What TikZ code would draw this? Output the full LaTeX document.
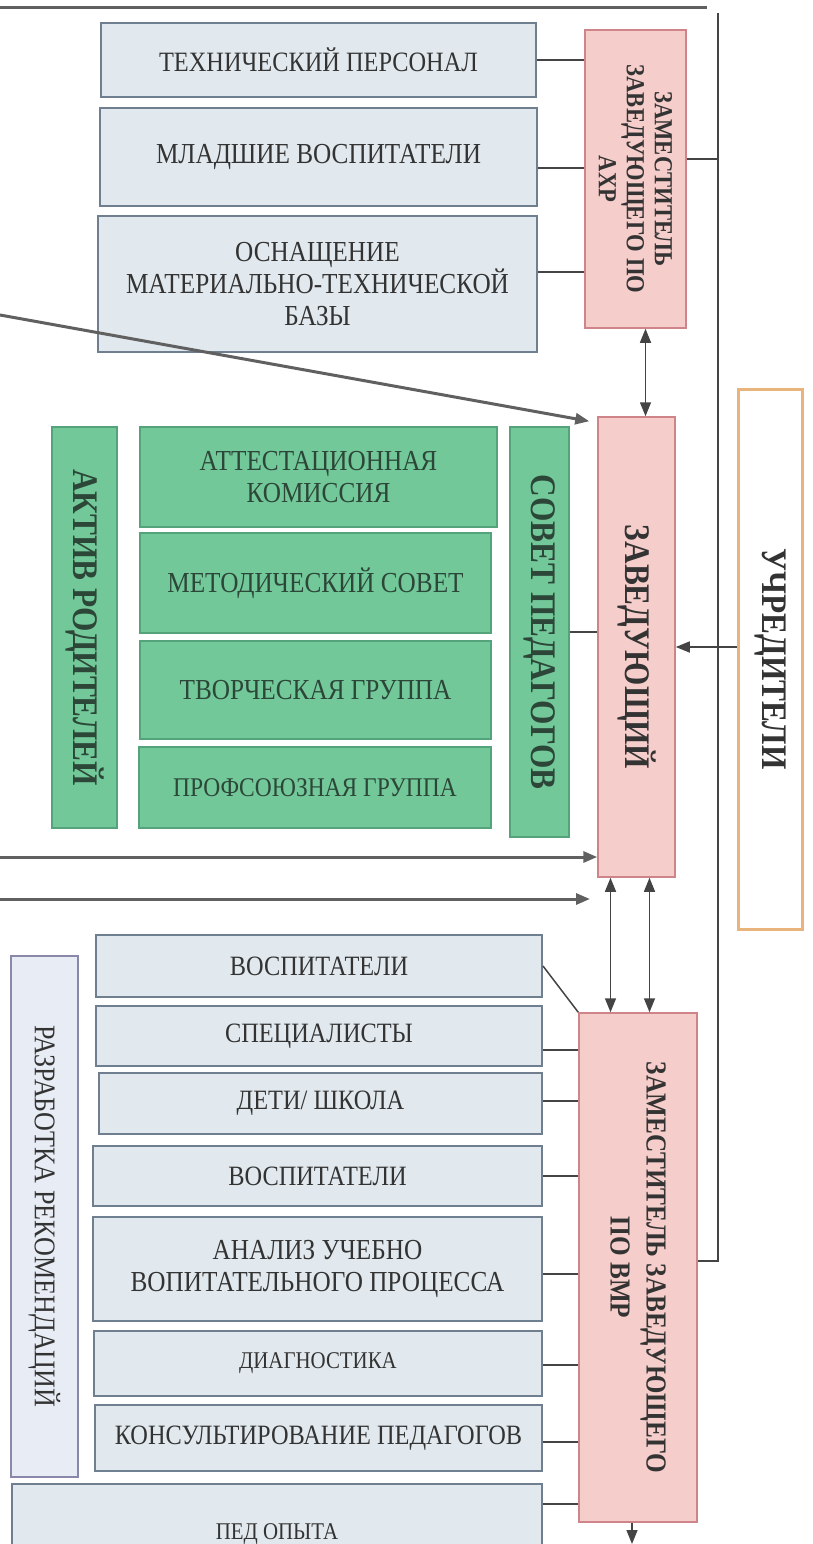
\documentclass[tikz,border=0pt]{standalone}
\usepackage{fontspec}
\setmainfont[FakeStretch=0.87]{Liberation Serif}
\usetikzlibrary{positioning, calc, arrows.meta}

\definecolor{bluefill}{HTML}{E1E9EE}
\definecolor{blueline}{HTML}{6F7F90}
\definecolor{greenfill}{HTML}{72C899}
\definecolor{greenline}{HTML}{55A37B}
\definecolor{greentxt}{HTML}{2C4638}
\definecolor{pinkfill}{HTML}{F5CDCA}
\definecolor{pinkline}{HTML}{CF8489}
\definecolor{lilacfill}{HTML}{E8ECF4}
\definecolor{lilacline}{HTML}{8A88AA}
\definecolor{orangeline}{HTML}{E8B47C}
\definecolor{txt}{HTML}{333333}
\definecolor{linec}{HTML}{444444}

\tikzset{
bluebox/.style={draw=blueline, fill=bluefill, line width=2pt, inner sep=0pt, text=txt, align=center, font=\fontsize{28}{32}\selectfont},
greenbox/.style={draw=greenline, fill=greenfill, line width=1.5pt, inner sep=0pt, text=greentxt, align=center, font=\fontsize{29}{32}\selectfont},
pinkbox/.style={draw=pinkline, fill=pinkfill, line width=1.5pt, inner sep=0pt},
vtext/.style={rotate=-90, text=txt, align=center, font=\bfseries\fontsize{36}{38}\selectfont},
link/.style={draw=linec, line width=1.5pt},
heavy/.style={draw=linec!85, line width=3pt},
tip/.style={-{Triangle[length=14pt,width=11pt]}},
tips/.style={{Triangle[length=14pt,width=11pt]}-{Triangle[length=14pt,width=11pt]}}
}

\begin{document}
\begin{tikzpicture}[x=1pt, y=1pt]
\useasboundingbox (0,0) rectangle (813,-1544);
\clip (0,0) rectangle (813,-1544);

% upper block
\node[bluebox, minimum width=435, minimum height=74] (tech) at (318.5,-60) {ТЕХНИЧЕСКИЙ ПЕРСОНАЛ};
\node[bluebox, minimum width=437, minimum height=98, font=\fontsize{29}{32}\selectfont] (mlad) at (318.5,-157) {МЛАДШИЕ ВОСПИТАТЕЛИ};
\node[bluebox, minimum width=439, minimum height=136, font=\fontsize{29}{32}\selectfont] (osn) at (317.5,-284) {ОСНАЩЕНИЕ\\МАТЕРИАЛЬНО-ТЕХНИЧЕСКОЙ\\БАЗЫ};
\node[pinkbox, minimum width=101, minimum height=298] (ahr) at (635.5,-179) {};
\node[vtext, font=\bfseries\fontsize{26}{28}\selectfont] at (ahr) {ЗАМЕСТИТЕЛЬ\\ЗАВЕДУЮЩЕГО ПО\\АХР};

% middle block
\node[pinkbox, minimum width=77, minimum height=460] (zav) at (636.5,-647) {};
\node[vtext] at (zav) {ЗАВЕДУЮЩИЙ};
\node[draw=orangeline, fill=white, line width=3pt, inner sep=0pt, minimum width=64, minimum height=540] (uchr) at (770,-659) {};
\node[vtext] at (uchr) {УЧРЕДИТЕЛИ};
\node[greenbox, minimum width=65, minimum height=401] (aktiv) at (84.5,-627.5) {};
\node[vtext, text=greentxt] at (aktiv) {АКТИВ РОДИТЕЛЕЙ};
\node[greenbox, minimum width=59, minimum height=410] (sovet) at (539.5,-632) {};
\node[vtext, text=greentxt] at (sovet) {СОВЕТ ПЕДАГОГОВ};
\node[greenbox, minimum width=357, minimum height=100] (att) at (318.5,-477) {АТТЕСТАЦИОННАЯ\\КОМИССИЯ};
\node[greenbox, minimum width=351, minimum height=100] (metod) at (315.5,-583) {МЕТОДИЧЕСКИЙ СОВЕТ};
\node[greenbox, minimum width=351, minimum height=98] (tvor) at (315.5,-690) {ТВОРЧЕСКАЯ ГРУППА};
\node[greenbox, minimum width=352, minimum height=81, font=\fontsize{27}{30}\selectfont] (prof) at (315,-787.5) {ПРОФСОЮЗНАЯ ГРУППА};

% lower block
\node[bluebox, minimum width=446, minimum height=62] (vosp1) at (319,-966) {ВОСПИТАТЕЛИ};
\node[bluebox, minimum width=446, minimum height=60] (spec) at (319,-1036) {СПЕЦИАЛИСТЫ};
\node[bluebox, minimum width=443, minimum height=61] (deti) at (320.5,-1103.5) {ДЕТИ/ ШКОЛА};
\node[bluebox, minimum width=449, minimum height=60] (vosp2) at (317.5,-1176) {ВОСПИТАТЕЛИ};
\node[bluebox, minimum width=449, minimum height=104, font=\fontsize{29}{32}\selectfont] (anal) at (317.5,-1269) {АНАЛИЗ УЧЕБНО\\ВОПИТАТЕЛЬНОГО ПРОЦЕССА};
\node[bluebox, minimum width=448, minimum height=65, font=\fontsize{24}{28}\selectfont] (diag) at (318,-1363.5) {ДИАГНОСТИКА};
\node[bluebox, minimum width=447, minimum height=66] (kons) at (318.5,-1438) {КОНСУЛЬТИРОВАНИЕ ПЕДАГОГОВ};
\node[bluebox, minimum width=530, minimum height=96] (ped) at (277,-1532) {};
\node[text=txt, anchor=base, font=\fontsize{24}{28}\selectfont] (pedtxt) at (277,-1539) {ПЕД ОПЫТА};
\node[draw=lilacline, fill=lilacfill, line width=2pt, inner sep=0pt, minimum width=67, minimum height=521] (razr) at (44.5,-1216.5) {};
\node[vtext, font=\fontsize{30}{32}\selectfont] at (razr) {РАЗРАБОТКА РЕКОМЕНДАЦИЙ};
\node[pinkbox, minimum width=118, minimum height=509] (vmr) at (638,-1267.5) {};
\node[vtext, font=\bfseries\fontsize{29}{36}\selectfont] at (vmr) {ЗАМЕСТИТЕЛЬ ЗАВЕДУЮЩЕГО\\ПО ВМР};

% connectors
\coordinate (topl) at (0,-8);
\coordinate (topr) at (707,-8);
\coordinate (rt) at (718,-13);
\coordinate (rb) at (718,-1261);
\coordinate (dl) at (0,-315);
\coordinate (l1) at (0,-857);
\coordinate (l2) at (0,-899);
\coordinate (l2e) at (590,-899);
\coordinate (down) at (632,-1544);

\draw[heavy] (topl) -- (topr);
\draw[link] (rt) -- (rb) -- (rb -| vmr.east);
\draw[link] ($(ahr.east)+(0,20)$) -- ($(ahr.east -| rt)+(0,20)$);
\foreach \n/\s in {tech/0, mlad/-11, osn/12}
  \draw[link] ($(\n.east)+(0,\s)$) -- ($(\n.east -| ahr.west)+(0,\s)$);
\draw[link, tips] ([xshift=10pt]ahr.south) -- ([xshift=10pt]ahr.south |- zav.north);
\draw[heavy, tip] (dl) -- ([shift={(-8,-5)}]zav.north west);
\draw[link, tip] (zav.east -| uchr.west) -- (zav.east);
\draw[link] (sovet.east) -- (sovet.east -| zav.west);
\draw[heavy, tip] (l1) -- (l1 -| zav.west);
\draw[heavy, tip] (l2) -- (l2e);
\draw[link, tips] ([xshift=-26pt]zav.south) -- ([xshift=-26pt]zav.south |- vmr.north);
\draw[link, tips] ([xshift=13pt]zav.south) -- ([xshift=13pt]zav.south |- vmr.north);
\draw[link] (vosp1.east) -- (vmr.north west);
\foreach \n/\s in {spec/-14, deti/2.5, vosp2/0, anal/-5, diag/-1.5, kons/-4, ped/28}
  \draw[link] ($(\n.east)+(0,\s)$) -- ($(\n.east -| vmr.west)+(0,\s)$);
\draw[link, tip] ([xshift=-6pt]vmr.south) -- (down);
\end{tikzpicture}
\end{document}
